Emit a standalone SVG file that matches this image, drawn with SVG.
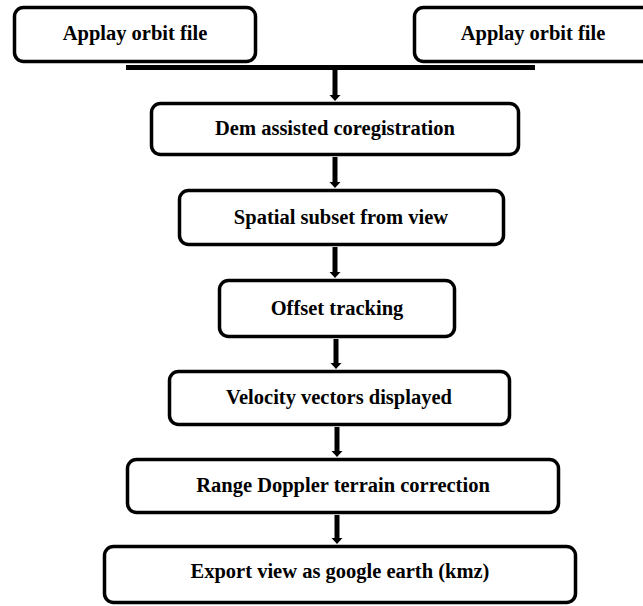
<svg xmlns="http://www.w3.org/2000/svg" width="643" height="606" viewBox="0 0 643 606">
<style>
.box{fill:#fff;stroke:#000;stroke-width:3.5}
.lbl{font-family:"Liberation Serif","Times New Roman",serif;font-weight:bold;font-size:20.5px;fill:#000;text-anchor:middle}
.shaft{stroke:#000;stroke-width:5;fill:none}
.head{fill:#000}
</style>
<rect width="643" height="606" fill="#fff"/>
<g id="n1"><rect class="box" x="14.5" y="7.5" width="241" height="54" rx="9"/><text class="lbl" x="135" y="40">Applay orbit file</text></g>
<g id="n2"><rect class="box" x="414.5" y="7.5" width="241" height="54" rx="9"/><text class="lbl" x="533" y="40">Applay orbit file</text></g>
<g id="connectors">
<rect x="126" y="65" width="409" height="5" fill="#000"/>
<line class="shaft" x1="335" y1="68" x2="335" y2="96"/><polygon class="head" points="329.5,95 340.5,95 335,101"/>
<line class="shaft" x1="335" y1="157" x2="335" y2="183"/><polygon class="head" points="329.5,182 340.5,182 335,188"/>
<line class="shaft" x1="335" y1="247" x2="335" y2="273"/><polygon class="head" points="329.5,272 340.5,272 335,278"/>
<line class="shaft" x1="336" y1="339" x2="336" y2="364"/><polygon class="head" points="330.5,363 341.5,363 336,369"/>
<line class="shaft" x1="337" y1="427" x2="337" y2="452"/><polygon class="head" points="331.5,451 342.5,451 337,457"/>
<line class="shaft" x1="337" y1="515" x2="337" y2="539"/><polygon class="head" points="331.5,538 342.5,538 337,544"/>
</g>
<g id="n3"><rect class="box" x="151.5" y="103.5" width="367" height="51" rx="9"/><text class="lbl" x="335" y="135">Dem assisted coregistration</text></g>
<g id="n4"><rect class="box" x="179.5" y="190.5" width="324" height="54" rx="9"/><text class="lbl" x="341" y="224">Spatial subset from view</text></g>
<g id="n5"><rect class="box" x="219.5" y="280.5" width="235" height="56" rx="9"/><text class="lbl" x="337" y="315">Offset tracking</text></g>
<g id="n6"><rect class="box" x="169.5" y="371.5" width="340" height="53" rx="9"/><text class="lbl" x="339" y="404">Velocity vectors displayed</text></g>
<g id="n7"><rect class="box" x="127.5" y="459.5" width="431" height="53" rx="9"/><text class="lbl" x="343" y="492">Range Doppler terrain correction</text></g>
<g id="n8"><rect class="box" x="104.5" y="546.5" width="471" height="56" rx="9"/><text class="lbl" x="340" y="578">Export view as google earth (kmz)</text></g>
</svg>
